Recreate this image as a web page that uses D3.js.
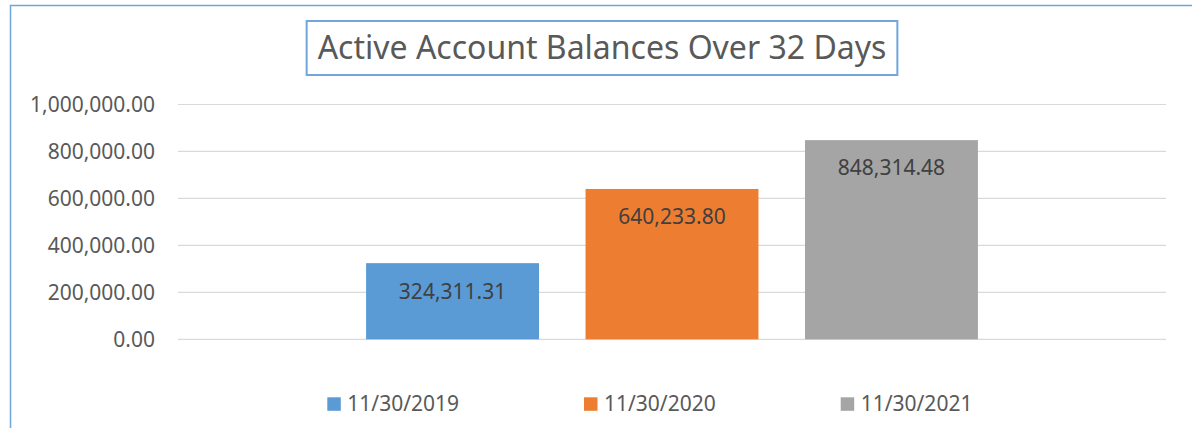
<!DOCTYPE html>
<html lang="en">
<head>
<meta charset="UTF-8">
<title>Active Account Balances Over 32 Days</title>
<style>
  body { margin: 0; background: #fff; font-family: "Noto Sans", "Open Sans", sans-serif; }
  svg { display: block; }
</style>
</head>
<body>
<div id="chart"></div>
<script src="https://d3js.org/d3.v7.min.js"></script>
<script>
const title = "Active Account Balances Over 32 Days";
const dates = ["11/30/2019", "11/30/2020", "11/30/2021"];
const balances = [324311.31, 640233.80, 848314.48];
const yTicks = [0, 200000, 400000, 600000, 800000, 1000000];
const colors = ["#5b9bd5", "#ed7d31", "#a5a5a5"];

const width = 1192, height = 428;
const plot = { left: 178, right: 1166, top: 104.5, bottom: 339.3 };
const fmt = d3.format(",.2f");

const svg = d3.select("#chart").append("svg")
  .attr("width", width)
  .attr("height", height);

// chart area border (runs off the right and bottom edges)
svg.append("rect")
  .attr("x", 10.5).attr("y", 5.5)
  .attr("width", width + 20).attr("height", height + 20)
  .attr("fill", "#fff")
  .attr("stroke", "#6fa6dc")
  .attr("stroke-width", 1.5);

const x = d3.scaleBand()
  .domain(dates)
  .range([plot.left, plot.right])
  .paddingInner(0.212)
  .paddingOuter(0.857);

const y = d3.scaleLinear()
  .domain([0, 1000000])
  .range([plot.bottom, plot.top]);

// gridlines + y labels
const yAxis = svg.append("g");
yAxis.selectAll("line")
  .data(yTicks)
  .join("line")
  .attr("x1", plot.left).attr("x2", plot.right)
  .attr("y1", d => y(d)).attr("y2", d => y(d))
  .attr("stroke", "#d9d9d9")
  .attr("stroke-width", 1.2);
yAxis.selectAll("text")
  .data(yTicks)
  .join("text")
  .attr("x", 155)
  .attr("y", d => y(d))
  .attr("dy", "0.35em")
  .attr("text-anchor", "end")
  .attr("font-size", 21)
  .attr("fill", "#595959")
  .text(fmt);

// bars
const bars = svg.append("g");
bars.selectAll("rect")
  .data(dates)
  .join("rect")
  .attr("x", d => x(d))
  .attr("width", x.bandwidth())
  .attr("y", (d, i) => y(balances[i]))
  .attr("height", (d, i) => y(0) - y(balances[i]))
  .attr("fill", (d, i) => colors[i]);

bars.selectAll("text")
  .data(dates)
  .join("text")
  .attr("x", d => x(d) + x.bandwidth() / 2)
  .attr("y", (d, i) => y(balances[i]) + 28)
  .attr("dy", "0.35em")
  .attr("text-anchor", "middle")
  .attr("font-size", 21)
  .attr("fill", "#404040")
  .text((d, i) => fmt(balances[i]));

// title with box
const tg = svg.append("g");
const tBox = tg.append("rect");
const tText = tg.append("text")
  .attr("x", 602)
  .attr("y", 48)
  .attr("dy", "0.35em")
  .attr("text-anchor", "middle")
  .attr("font-size", 32)
  .attr("fill", "#595959")
  .text(title);
const tw = tText.node().getComputedTextLength();
tBox.attr("x", 602 - tw / 2 - 11)
  .attr("y", 21)
  .attr("width", tw + 22)
  .attr("height", 54)
  .attr("fill", "#fff")
  .attr("stroke", "#6fa6dc")
  .attr("stroke-width", 2);

// legend
const legend = svg.append("g")
  .selectAll("g")
  .data(dates)
  .join("g")
  .attr("transform", (d, i) => `translate(${327.3 + i * 256.7},404)`);
legend.append("rect")
  .attr("x", 0).attr("y", -6.7)
  .attr("width", 13.5).attr("height", 13.5)
  .attr("fill", (d, i) => colors[i]);
legend.append("text")
  .attr("x", 20)
  .attr("dy", "0.35em")
  .attr("font-size", 21)
  .attr("fill", "#595959")
  .text(d => d);
</script>
</body>
</html>
